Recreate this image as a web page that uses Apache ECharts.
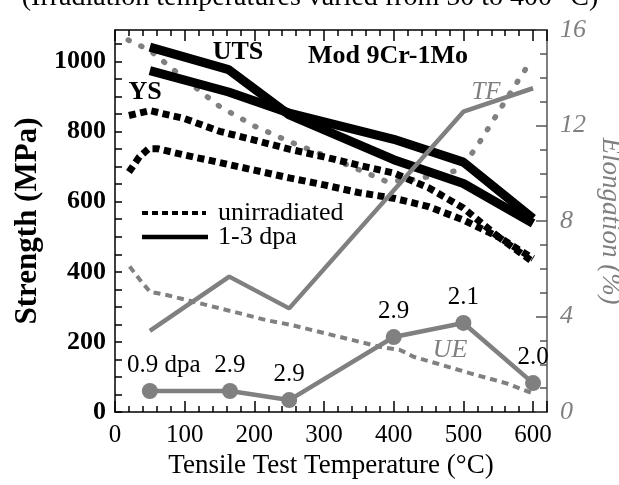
<!DOCTYPE html>
<html>
<head>
<meta charset="utf-8">
<script src="https://cdn.jsdelivr.net/npm/echarts@6/dist/echarts.min.js"></script>
<style>
  html, body { margin: 0; padding: 0; background: #fff; }
  #chart { width: 619px; height: 485px; }
</style>
</head>
<body>
<div id="chart"></div>
<script>
  // irradiated (1-3 dpa), strength in MPa
  const tempIrr = [50, 163, 250, 400, 500, 600];
  const utsIrr = [1041, 977, 848, 720, 652, 538];
  const ysIrr = [974, 913, 853, 778, 713, 552];
  // irradiated elongation (%)
  const teIrrT = [50, 164, 250, 500, 600];
  const teIrr = [3.4, 5.67, 4.34, 12.58, 13.56];
  const ueIrrT = [50, 165, 250, 400, 500, 600];
  const ueIrr = [0.88, 0.88, 0.5, 3.14, 3.73, 1.21];
  const ueDpa = ['0.9 dpa', '2.9', '2.9', '2.9', '2.1', '2.0'];
  // unirradiated curves
  const utsUnT = [20, 50, 100, 150, 200, 250, 300, 350, 400, 450, 500, 550, 600];
  const utsUn = [846, 860, 837, 801, 776, 750, 728, 704, 682, 640, 582, 500, 438];
  const ysUnT = [20, 35, 48, 62, 100, 150, 200, 250, 300, 350, 400, 450, 500, 550, 600];
  const ysUn = [685, 728, 751, 751, 733, 712, 690, 668, 648, 626, 610, 586, 548, 500, 428];
  const teUnT = [19, 50, 100, 150, 200, 250, 300, 350, 390, 425, 460, 495, 520, 550, 575, 598];
  const teUn = [15.58, 15.15, 13.95, 12.8, 11.98, 11.33, 10.75, 10.15, 9.65, 9.72, 9.92, 10.14, 11.15, 12.55, 13.72, 14.75];
  const ueUnT = [21, 36, 50, 74, 122, 170, 217, 254, 380, 409, 428, 510, 562, 600];
  const ueUn = [6.09, 5.53, 5.04, 4.9, 4.55, 4.2, 3.85, 3.64, 2.73, 2.6, 2.32, 1.62, 1.2, 0.78];

  const FONT = 'Liberation Serif';
  const GRAY = '#808080';

  function pairs(xs, ys) {
    return xs.map((x, i) => [x, ys[i]]);
  }

  let myChart = echarts.init(document.getElementById('chart'));

  const noLine = {show: false, onZero: false};
  const frameLine = (color) => ({show: true, onZero: false, lineStyle: {color: color, width: 1.5}});
  const tick = (len, color) => ({show: true, inside: true, length: len, lineStyle: {color: color, width: 1.5}});
  const xBase = {
    type: 'value', min: 0, max: 620, splitLine: {show: false},
    axisLine: noLine, axisLabel: {show: false}
  };

  myChart.setOption({
    animation: false,
    grid: {left: 115, right: 72, top: 30, bottom: 73, containLabel: false, outerBoundsMode: 'none'},
    xAxis: [
      Object.assign({}, xBase, {
        position: 'bottom', interval: 20,
        name: 'Tensile Test Temperature (°C)', nameLocation: 'middle', nameGap: 40,
        nameTextStyle: {fontFamily: FONT, fontSize: 27, color: '#000'},
        axisLine: frameLine('#000'),
        axisTick: tick(6, '#000'),
        axisLabel: {
          show: true, margin: 11, fontFamily: FONT, fontSize: 25, color: '#000', showMaxLabel: false,
          formatter: v => (v % 100 === 0 ? String(v) : '')
        }
      }),
      Object.assign({}, xBase, {position: 'bottom', interval: 100, axisTick: tick(11, '#000')}),
      Object.assign({}, xBase, {position: 'top', interval: 20, axisLine: frameLine('#000'), axisTick: tick(6, '#000')}),
      Object.assign({}, xBase, {position: 'top', interval: 100, axisTick: tick(11, '#000')})
    ],
    yAxis: [
      {
        type: 'value', min: 0, max: 1090, interval: 50, position: 'left',
        name: 'Strength (MPa)', nameLocation: 'middle', nameGap: 71, nameRotate: 90,
        nameTextStyle: {fontFamily: FONT, fontSize: 31, fontWeight: 'bold', color: '#000'},
        splitLine: {show: false},
        axisLine: frameLine('#000'),
        axisTick: tick(7, '#000'),
        axisLabel: {
          margin: 9, fontFamily: FONT, fontSize: 26, fontWeight: 'bold', color: '#000', showMaxLabel: false,
          formatter: v => (v % 200 === 0 ? String(v) : '')
        }
      },
      {
        type: 'value', min: 0, max: 16, interval: 1, position: 'right',
        name: 'Elongation (%)', nameLocation: 'middle', nameGap: 43, nameRotate: -90,
        nameTextStyle: {fontFamily: FONT, fontSize: 27, fontStyle: 'italic', color: GRAY},
        splitLine: {show: false},
        axisLine: frameLine('#555'),
        axisTick: tick(7, '#555'),
        axisLabel: {
          margin: 13, fontFamily: FONT, fontSize: 26, fontStyle: 'italic', color: GRAY,
          formatter: v => (v % 4 === 0 ? String(v) : '')
        }
      },
      {
        type: 'value', min: 0, max: 16, interval: 4, position: 'right',
        splitLine: {show: false}, axisLine: noLine, axisLabel: {show: false},
        axisTick: tick(11, '#555')
      }
    ],
    series: [
      {
        name: 'TE unirradiated', type: 'line', yAxisIndex: 1, symbol: 'none',
        data: pairs(teUnT, teUn),
        lineStyle: {color: GRAY, width: 5.5, type: [1, 13], cap: 'round'}
      },
      {
        name: 'UE unirradiated', type: 'line', yAxisIndex: 1, symbol: 'none',
        data: pairs(ueUnT, ueUn),
        lineStyle: {color: GRAY, width: 4, type: [7, 5]}
      },
      {
        name: 'UTS unirradiated', type: 'line', symbol: 'none',
        data: pairs(utsUnT, utsUn),
        lineStyle: {color: '#000', width: 7, type: [7, 4.5]}
      },
      {
        name: 'YS unirradiated', type: 'line', symbol: 'none',
        data: pairs(ysUnT, ysUn),
        lineStyle: {color: '#000', width: 7, type: [7, 4.5]}
      },
      {
        name: 'UTS 1-3 dpa', type: 'line', symbol: 'none',
        data: pairs(tempIrr, utsIrr),
        lineStyle: {color: '#000', width: 9}
      },
      {
        name: 'YS 1-3 dpa', type: 'line', symbol: 'none',
        data: pairs(tempIrr, ysIrr),
        lineStyle: {color: '#000', width: 9}
      },
      {
        name: 'TE 1-3 dpa', type: 'line', yAxisIndex: 1, symbol: 'none',
        data: pairs(teIrrT, teIrr),
        lineStyle: {color: GRAY, width: 4.5}
      },
      {
        name: 'UE 1-3 dpa', type: 'line', yAxisIndex: 1,
        symbol: 'circle', symbolSize: 16,
        itemStyle: {color: GRAY},
        lineStyle: {color: GRAY, width: 4.5},
        label: {
          show: true, position: 'top', distance: 5,
          fontFamily: FONT, fontSize: 25, color: '#000'
        },
        data: ueIrrT.map((t, i) => ({
          value: [t, ueIrr[i]],
          label: {formatter: ueDpa[i], offset: i === 0 ? [14, 0] : [0, 0]}
        }))
      }
    ],
    graphic: [
      {type: 'text', x: 310, y: -2,
        style: {text: '(Irradiation temperatures varied from 50 to 400 °C)', font: '28px "Liberation Serif"', fill: '#000', align: 'center', verticalAlign: 'middle'}},
      {type: 'text', x: 238, y: 52,
        style: {text: 'UTS', font: 'bold 26px "Liberation Serif"', fill: '#000', align: 'center', verticalAlign: 'middle'}},
      {type: 'text', x: 145, y: 92,
        style: {text: 'YS', font: 'bold 26px "Liberation Serif"', fill: '#000', align: 'center', verticalAlign: 'middle'}},
      {type: 'text', x: 388, y: 56,
        style: {text: 'Mod 9Cr-1Mo', font: 'bold 26px "Liberation Serif"', fill: '#000', align: 'center', verticalAlign: 'middle'}},
      {type: 'text', x: 486, y: 92,
        style: {text: 'TF', font: 'italic 25px "Liberation Serif"', fill: GRAY, align: 'center', verticalAlign: 'middle'}},
      {type: 'text', x: 450, y: 350,
        style: {text: 'UE', font: 'italic 26px "Liberation Serif"', fill: GRAY, align: 'center', verticalAlign: 'middle'}},
      {type: 'line', shape: {x1: 142, y1: 213, x2: 206, y2: 213},
        style: {stroke: '#000', lineWidth: 4, lineDash: [6, 4]}},
      {type: 'text', x: 218, y: 213,
        style: {text: 'unirradiated', font: '26px "Liberation Serif"', fill: '#000', verticalAlign: 'middle'}},
      {type: 'line', shape: {x1: 142, y1: 237, x2: 208, y2: 237},
        style: {stroke: '#000', lineWidth: 4.5}},
      {type: 'text', x: 218, y: 237,
        style: {text: '1-3 dpa', font: '26px "Liberation Serif"', fill: '#000', verticalAlign: 'middle'}}
    ]
  });
</script>
</body>
</html>
